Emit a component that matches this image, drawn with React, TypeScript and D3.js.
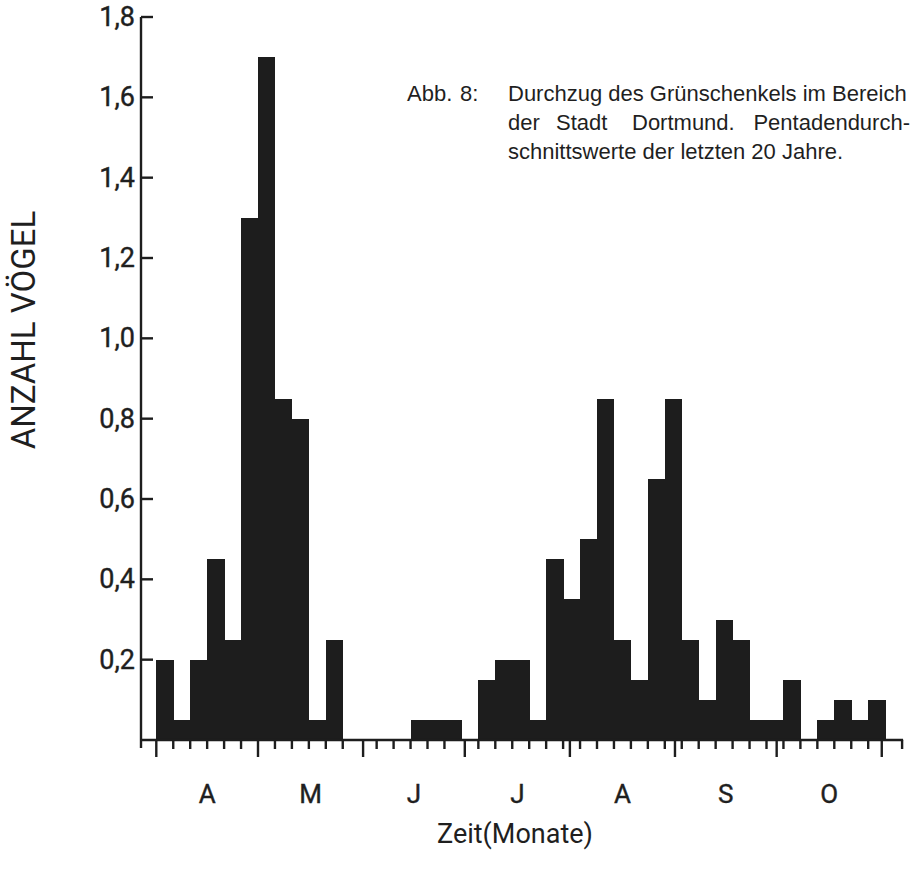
import React, { useEffect, useRef } from "react";
import * as d3 from "d3";

// pentad averages, April 1 onwards (one value per 5-day period)
const pentadValues = [
  0.2, 0.05, 0.2, 0.45, 0.25, 1.3, 1.7, 0.85, 0.8, 0.05, 0.25,
  0, 0, 0, 0, 0.05, 0.05, 0.05, 0,
  0.15, 0.2, 0.2, 0.05, 0.45, 0.35, 0.5, 0.85, 0.25, 0.15, 0.65, 0.85, 0.25,
  0.1, 0.3, 0.25, 0.05, 0.05, 0.15, 0, 0.05, 0.1, 0.05, 0.1, 0,
];

// month starts, in pentads counted from April 1
const monthStarts = [0, 6, 12.2, 18.2, 24.4, 30.6, 36.6, 42.8];
const monthLabels = ["A", "M", "J", "J", "A", "S", "O"];

const yTicks = [0.2, 0.4, 0.6, 0.8, 1.0, 1.2, 1.4, 1.6, 1.8];

const captionLine1 = ["Abb.", "8:", "Durchzug des Grünschenkels im Bereich"];
const captionLine2 = ["der", "Stadt", "Dortmund.", "Pentadendurch-"];
const captionLine3 = "schnittswerte der letzten 20 Jahre.";

const W = 915;
const H = 870;
const INK = "#1d1d1d";
const TEXT = "#1f1f1f";

const Chart = () => {
  const ref = useRef(null);

  useEffect(() => {
    const svg = d3.select(ref.current);
    svg.selectAll("*").remove();

    const x = d3.scaleLinear().domain([0, 44]).range([156.3, 902.1]);
    const y = d3.scaleLinear().domain([0, 1.8]).range([740, 17]);
    const axisX = 141;

    // bars
    svg
      .append("g")
      .selectAll("rect")
      .data(pentadValues)
      .enter()
      .append("rect")
      .attr("x", (d, i) => x(i))
      .attr("width", (d, i) => x(i + 1) - x(i) + 0.4)
      .attr("y", (d) => y(d))
      .attr("height", (d) => y(0) - y(d))
      .attr("fill", INK)
      .attr("shape-rendering", "crispEdges");

    const ax = svg.append("g").attr("stroke", INK).attr("stroke-width", 2.4);

    // y axis
    ax.append("line")
      .attr("x1", axisX).attr("x2", axisX)
      .attr("y1", y(1.8)).attr("y2", y(0) + 8);
    ax.selectAll(".yt")
      .data(yTicks)
      .enter()
      .append("line")
      .attr("x1", axisX).attr("x2", axisX + 12)
      .attr("y1", (d) => y(d)).attr("y2", (d) => y(d));

    // x axis
    ax.append("line")
      .attr("x1", axisX).attr("x2", x(44) + 1)
      .attr("y1", y(0)).attr("y2", y(0));

    const shortTicks = d3
      .range(1, 45)
      .filter((i) => monthStarts.every((m) => Math.abs(m - i) > 0.3));
    ax.selectAll(".xt")
      .data(shortTicks)
      .enter()
      .append("line")
      .attr("x1", (d) => x(d)).attr("x2", (d) => x(d))
      .attr("y1", y(0)).attr("y2", y(0) + 9);
    ax.selectAll(".mt")
      .data(monthStarts)
      .enter()
      .append("line")
      .attr("x1", (d) => x(d)).attr("x2", (d) => x(d))
      .attr("y1", y(0)).attr("y2", y(0) + 17);

    const font = "Roboto, 'DejaVu Sans', sans-serif";

    // y tick labels
    svg
      .append("g")
      .selectAll("text")
      .data(yTicks)
      .enter()
      .append("text")
      .attr("x", axisX - 6)
      .attr("y", (d) => y(d) + 9)
      .attr("text-anchor", "end")
      .attr("font-family", font)
      .attr("font-size", 27)
      .attr("fill", TEXT)
      .attr("stroke", TEXT)
      .attr("stroke-width", 0.4)
      .text((d) => d3.format(".1f")(d).replace(".", ","));

    // month labels
    svg
      .append("g")
      .selectAll("text")
      .data(monthLabels)
      .enter()
      .append("text")
      .attr("x", (d, i) => (x(monthStarts[i]) + x(monthStarts[i + 1])) / 2)
      .attr("y", 803)
      .attr("text-anchor", "middle")
      .attr("font-family", font)
      .attr("font-size", 26)
      .attr("fill", TEXT)
      .attr("stroke", TEXT)
      .attr("stroke-width", 0.4)
      .text((d) => d);

    // axis titles
    svg
      .append("text")
      .attr("x", 515)
      .attr("y", 843)
      .attr("text-anchor", "middle")
      .attr("font-family", font)
      .attr("font-size", 27)
      .attr("fill", TEXT)
      .text("Zeit(Monate)");

    svg
      .append("text")
      .attr("transform", "translate(35,330) rotate(-90)")
      .attr("text-anchor", "middle")
      .attr("font-family", font)
      .attr("font-size", 33)
      .attr("fill", TEXT)
      .text("ANZAHL VÖGEL");

    // caption
    const cap = svg
      .append("g")
      .attr("font-family", "'Liberation Sans', Arial, sans-serif")
      .attr("font-size", 22)
      .attr("fill", TEXT);
    const line1X = [407, 460, 508];
    captionLine1.forEach((t, i) => {
      cap.append("text").attr("x", line1X[i]).attr("y", 101).text(t);
    });
    const line2X = [508, 556, 632, 910];
    captionLine2.forEach((t, i) => {
      cap
        .append("text")
        .attr("x", line2X[i])
        .attr("y", 130)
        .attr("text-anchor", i === 3 ? "end" : "start")
        .text(t);
    });
    cap.append("text").attr("x", 508).attr("y", 159).text(captionLine3);
  }, []);

  return (
    <svg
      ref={ref}
      width={W}
      height={H}
      style={{ position: "absolute", left: 0, top: 0, background: "#fff" }}
    />
  );
};

export default function App() {
  return <Chart />;
}
